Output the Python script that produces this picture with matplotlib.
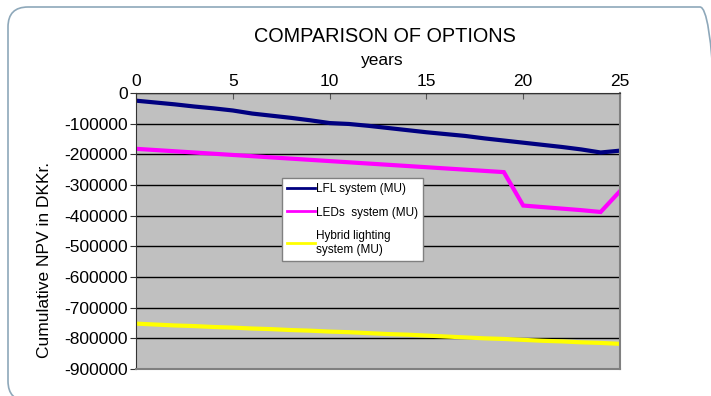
"""
COMPARISON OF OPTIONS — cumulative NPV line chart (Excel-style look).
"""

import matplotlib
matplotlib.use("Agg")
import matplotlib.pyplot as plt
from matplotlib.patches import FancyBboxPatch

plt.rcParams["font.family"] = ["Liberation Sans", "DejaVu Sans"]

# data
years = list(range(26))
lfl = [-25000, -31000, -37000, -44000, -50000, -57000, -67000, -74000, -81000, -89000,
       -98000, -101000, -107000, -114000, -121000, -128000, -134000, -140000, -148000, -155000,
       -162000, -169000, -176000, -184000, -194000, -188000]
leds = [-182000, -186000, -190000, -194000, -198000, -202000, -206000, -210000, -214000, -218000,
        -222000, -226000, -230000, -234000, -238000, -242000, -246000, -250000, -254000, -258000,
        -367000, -372000, -377000, -382000, -388000, -320000]
hybrid = [-752000, -755000, -758000, -760000, -763000, -765000, -768000, -770000, -773000, -775000,
          -778000, -780000, -783000, -786000, -788000, -791000, -794000, -797000, -800000, -802000,
          -805000, -808000, -810000, -813000, -815000, -818000]
series_names = ["LFL system (MU)", "LEDs  system (MU)", "Hybrid lighting\nsystem (MU)"]
y_ticks = list(range(0, -900001, -100000))
x_ticks = [0, 5, 10, 15, 20, 25]

fig = plt.figure(figsize=(7.11, 3.96), dpi=100)

# rounded outer frame (runs off the right and bottom edges)
frame = FancyBboxPatch((0.08, -0.05), 7.12, 3.94,
                       boxstyle="round,pad=0,rounding_size=0.2",
                       transform=fig.dpi_scale_trans, fill=False,
                       edgecolor="#8ea8ba", linewidth=1.2, clip_on=False)
fig.patches.append(frame)

ax = fig.add_axes([136 / 711, 1 - 369 / 396, 484 / 711, 276 / 396])
ax.set_facecolor("#c0c0c0")

ax.plot(years, lfl, color="#000080", lw=3, label=series_names[0], solid_joinstyle="miter")
ax.plot(years, leds, color="#ff00ff", lw=3, label=series_names[1], solid_joinstyle="miter")
ax.plot(years, hybrid, color="#ffff00", lw=3, label=series_names[2], solid_joinstyle="miter")

ax.set_xlim(0, 25)
ax.set_ylim(-900000, 0)
ax.set_yticks(y_ticks)
ax.set_yticklabels([str(v) for v in y_ticks])
ax.set_xticks(x_ticks)
ax.xaxis.tick_top()
ax.tick_params(axis="x", direction="in", length=4, labelsize=12.5, pad=3, color="#555555")
ax.tick_params(axis="y", direction="out", length=4, labelsize=12.5, pad=2, color="#333333")
ax.grid(axis="y", color="black", lw=1)
ax.set_axisbelow(True)
for side in ["left", "top"]:
    ax.spines[side].set_color("#333333")
for side in ["right", "bottom"]:
    ax.spines[side].set_color("#808080")
    ax.spines[side].set_linewidth(1.5)

leg = ax.legend(loc="upper left", bbox_to_anchor=(0.302, 0.692), fontsize=8.5,
                frameon=True, fancybox=False, edgecolor="#808080", framealpha=1,
                handlelength=2.3, handletextpad=0.1, borderpad=0.45, labelspacing=0.95,
                borderaxespad=0)
leg.get_frame().set_linewidth(1)
for line in leg.get_lines():
    line.set_linewidth(2)

fig.text(385 / 711, 1 - 37 / 396, "COMPARISON OF OPTIONS", ha="center", va="center", fontsize=14.3)
fig.text(382 / 711, 1 - 61 / 396, "years", ha="center", va="center", fontsize=12.5)
fig.text(45 / 711, 1 - 260 / 396, "Cumulative NPV in DKKr.", ha="center", va="center",
         rotation=90, fontsize=12.5)

fig.savefig("out.png", dpi=100)
plt.close(fig)
